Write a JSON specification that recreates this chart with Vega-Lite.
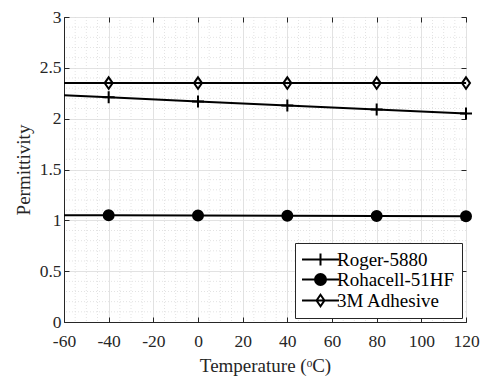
{
  "$schema": "https://vega.github.io/schema/vega-lite/v6.json",
  "width": 402,
  "height": 305,
  "autosize": {"type": "none"},
  "padding": {"left": 64, "top": 17, "right": 14, "bottom": 57},
  "background": "white",
  "datasets": {
    "curves": [
      {"series": "Roger-5880", "temp": -60, "eps": 2.23},
      {"series": "Roger-5880", "temp": -40, "eps": 2.21},
      {"series": "Roger-5880", "temp": 0, "eps": 2.17},
      {"series": "Roger-5880", "temp": 40, "eps": 2.13},
      {"series": "Roger-5880", "temp": 80, "eps": 2.09},
      {"series": "Roger-5880", "temp": 120, "eps": 2.05},
      {"series": "Rohacell-51HF", "temp": -60, "eps": 1.05},
      {"series": "Rohacell-51HF", "temp": -40, "eps": 1.05},
      {"series": "Rohacell-51HF", "temp": 0, "eps": 1.048},
      {"series": "Rohacell-51HF", "temp": 40, "eps": 1.045},
      {"series": "Rohacell-51HF", "temp": 80, "eps": 1.043},
      {"series": "Rohacell-51HF", "temp": 120, "eps": 1.04},
      {"series": "3M Adhesive", "temp": -60, "eps": 2.35},
      {"series": "3M Adhesive", "temp": -40, "eps": 2.35},
      {"series": "3M Adhesive", "temp": 0, "eps": 2.35},
      {"series": "3M Adhesive", "temp": 40, "eps": 2.35},
      {"series": "3M Adhesive", "temp": 80, "eps": 2.35},
      {"series": "3M Adhesive", "temp": 120, "eps": 2.35}
    ],
    "minorX": [
      {"t": -55}, {"t": -50}, {"t": -45}, {"t": -35}, {"t": -30}, {"t": -25},
      {"t": -15}, {"t": -10}, {"t": -5}, {"t": 5}, {"t": 10}, {"t": 15},
      {"t": 25}, {"t": 30}, {"t": 35}, {"t": 45}, {"t": 50}, {"t": 55},
      {"t": 65}, {"t": 70}, {"t": 75}, {"t": 85}, {"t": 90}, {"t": 95},
      {"t": 105}, {"t": 110}, {"t": 115}
    ],
    "minorY": [
      {"v": 0.1}, {"v": 0.2}, {"v": 0.3}, {"v": 0.4},
      {"v": 0.6}, {"v": 0.7}, {"v": 0.8}, {"v": 0.9},
      {"v": 1.1}, {"v": 1.2}, {"v": 1.3}, {"v": 1.4},
      {"v": 1.6}, {"v": 1.7}, {"v": 1.8}, {"v": 1.9},
      {"v": 2.1}, {"v": 2.2}, {"v": 2.3}, {"v": 2.4},
      {"v": 2.6}, {"v": 2.7}, {"v": 2.8}, {"v": 2.9}
    ]
  },
  "config": {
    "view": {"stroke": "#262626", "strokeWidth": 1},
    "font": "Liberation Serif",
    "axis": {
      "labelFont": "Liberation Serif",
      "labelFontSize": 17.5,
      "labelColor": "#262626",
      "labelExpr": "'' + datum.value",
      "labelFlush": false,
      "labelOverlap": false,
      "titleFont": "Liberation Serif",
      "titleFontSize": 19,
      "titleFontWeight": "normal",
      "titleColor": "#262626",
      "domainColor": "#262626",
      "tickColor": "#262626",
      "tickSize": -5,
      "gridColor": "#e2e2e2",
      "gridWidth": 1
    }
  },
  "resolve": {"axis": {"x": "independent", "y": "independent"}},
  "layer": [
    {
      "data": {"name": "minorX"},
      "mark": {"type": "rule", "color": "#dcdcdc", "strokeWidth": 0.8, "strokeDash": [1, 2]},
      "encoding": {
        "x": {
          "field": "t", "type": "quantitative",
          "scale": {"domain": [-60, 120], "nice": false, "zero": false, "padding": 0},
          "axis": {"orient": "top", "values": [-60, -40, -20, 0, 20, 40, 60, 80, 100, 120], "labels": false, "domain": false, "grid": false, "title": null}
        }
      }
    },
    {
      "data": {"name": "minorY"},
      "mark": {"type": "rule", "color": "#dcdcdc", "strokeWidth": 0.8, "strokeDash": [1, 2]},
      "encoding": {
        "y": {
          "field": "v", "type": "quantitative",
          "scale": {"domain": [0, 3], "nice": false, "zero": true, "padding": 0},
          "axis": {"orient": "right", "values": [0, 0.5, 1, 1.5, 2, 2.5, 3], "labels": false, "domain": false, "grid": false, "title": null}
        }
      }
    },
    {
      "data": {"name": "curves"},
      "mark": {"type": "line", "color": "black", "strokeWidth": 2},
      "encoding": {
        "x": {
          "field": "temp", "type": "quantitative",
          "scale": {"domain": [-60, 120], "nice": false, "zero": false, "padding": 0},
          "axis": {"values": [-60, -40, -20, 0, 20, 40, 60, 80, 100, 120], "grid": true, "labelPadding": 15, "title": "Temperature (ᵒC)", "titlePadding": 7}
        },
        "y": {
          "field": "eps", "type": "quantitative",
          "scale": {"domain": [0, 3], "nice": false, "zero": true, "padding": 0},
          "axis": {"values": [0, 0.5, 1, 1.5, 2, 2.5, 3], "grid": true, "labelPadding": 8, "title": "Permittivity", "titlePadding": 6}
        },
        "detail": {"field": "series"}
      }
    },
    {
      "data": {"name": "curves"},
      "transform": [{"filter": "datum.temp > -60"}],
      "mark": {"type": "point", "filled": true, "stroke": "black", "strokeWidth": 2, "opacity": 1, "size": 100},
      "encoding": {
        "x": {"field": "temp", "type": "quantitative", "axis": null},
        "y": {"field": "eps", "type": "quantitative", "axis": null},
        "shape": {
          "condition": [
            {"test": "datum.series === 'Roger-5880'", "value": "M-1.2,0H1.2M0,-1.2V1.2"},
            {"test": "datum.series === '3M Adhesive'", "value": "M0,-1.15L0.8,0L0,1.15L-0.8,0Z"}
          ],
          "value": "circle"
        },
        "fill": {
          "condition": {"test": "datum.series === '3M Adhesive'", "value": "transparent"},
          "value": "black"
        }
      }
    },
    {
      "data": {"name": "curves"},
      "mark": {"type": "point", "filled": true, "opacity": 0, "size": 121},
      "encoding": {
        "x": {"field": "temp", "type": "quantitative", "axis": null},
        "y": {"field": "eps", "type": "quantitative", "axis": null},
        "shape": {
          "field": "series", "type": "nominal",
          "scale": {
            "domain": ["Roger-5880", "Rohacell-51HF", "3M Adhesive"],
            "range": [
              "M-3.36,0H3.36M0,-1.1V1.1",
              "M-3.36,0H3.36M1,0A1,1 0 1,1 -1,0A1,1 0 1,1 1,0Z",
              "M-3.36,0H3.36M0,-1.05L0.72,0L0,1.05L-0.72,0Z"
            ]
          },
          "legend": {
            "title": null,
            "orient": "none",
            "legendX": 231,
            "legendY": 226,
            "symbolSize": 121,
            "symbolOpacity": 1,
            "symbolStrokeWidth": 2,
            "symbolOffset": 9,
            "labelOffset": 7,
            "labelFont": "Liberation Serif",
            "labelFontSize": 19,
            "labelColor": "black",
            "padding": 7,
            "rowPadding": 0,
            "strokeColor": "#262626",
            "fillColor": "white"
          }
        },
        "fill": {
          "field": "series", "type": "nominal",
          "scale": {
            "domain": ["Roger-5880", "Rohacell-51HF", "3M Adhesive"],
            "range": ["black", "black", "white"]
          },
          "legend": {
            "title": null,
            "orient": "none",
            "legendX": 231,
            "legendY": 226,
            "symbolSize": 121,
            "symbolOpacity": 1,
            "symbolStrokeWidth": 2,
            "symbolOffset": 9,
            "labelOffset": 7,
            "labelFont": "Liberation Serif",
            "labelFontSize": 19,
            "labelColor": "black",
            "padding": 7,
            "rowPadding": 0,
            "strokeColor": "#262626",
            "fillColor": "white"
          }
        },
        "stroke": {
          "field": "series", "type": "nominal",
          "scale": {
            "domain": ["Roger-5880", "Rohacell-51HF", "3M Adhesive"],
            "range": ["black", "black", "black"]
          },
          "legend": {
            "title": null,
            "orient": "none",
            "legendX": 231,
            "legendY": 226,
            "symbolSize": 121,
            "symbolOpacity": 1,
            "symbolStrokeWidth": 2,
            "symbolOffset": 9,
            "labelOffset": 7,
            "labelFont": "Liberation Serif",
            "labelFontSize": 19,
            "labelColor": "black",
            "padding": 7,
            "rowPadding": 0,
            "strokeColor": "#262626",
            "fillColor": "white"
          }
        }
      }
    }
  ]
}
